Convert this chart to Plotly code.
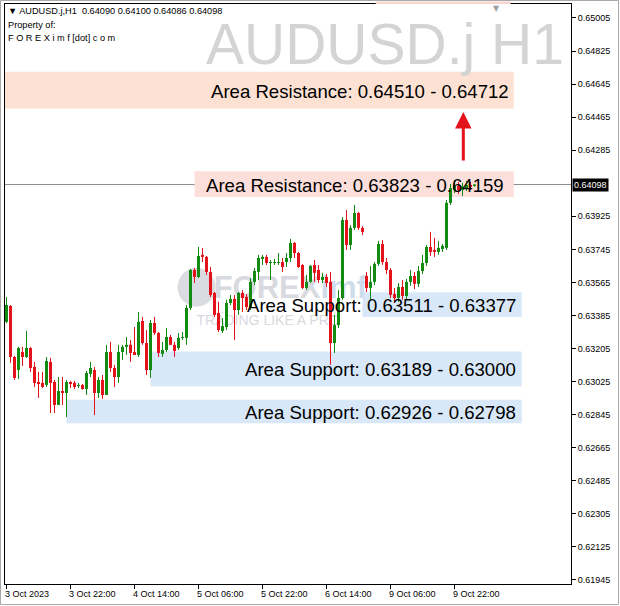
import plotly.graph_objects as go

# ---------------- data (AUDUSD.j H1) ----------------
opens = [0.63350, 0.63437, 0.63159, 0.63088, 0.63186, 0.63159, 0.63208, 0.63105, 0.63023, 0.63018,
         0.63007, 0.63132, 0.63023, 0.62898, 0.62974, 0.62963, 0.63023, 0.63018, 0.63001, 0.63007,
         0.62985, 0.63067, 0.63088, 0.62963, 0.63034, 0.62952, 0.63186, 0.63099, 0.63050, 0.63186,
         0.63214, 0.63225, 0.63186, 0.63170, 0.63355, 0.63235, 0.63088, 0.63344, 0.63290, 0.63176,
         0.63197, 0.63268, 0.63225, 0.63208, 0.63263, 0.63263, 0.63426, 0.63633, 0.63595, 0.63715,
         0.63704, 0.63622, 0.63508, 0.63399, 0.63301, 0.63322, 0.63453, 0.63475, 0.63415, 0.63508,
         0.63486, 0.63431, 0.63568, 0.63622, 0.63693, 0.63704, 0.63671, 0.63671, 0.63671, 0.63676,
         0.63676, 0.63698, 0.63780, 0.63725, 0.63660, 0.63535, 0.63568, 0.63660, 0.63633, 0.63578,
         0.63595, 0.63568, 0.63235, 0.63333, 0.63480, 0.63905, 0.63769, 0.63862, 0.63943, 0.63862,
         0.63600, 0.63535, 0.63568, 0.63666, 0.63774, 0.63676, 0.63633, 0.63502, 0.63480, 0.63540,
         0.63491, 0.63568, 0.63600, 0.63557, 0.63627, 0.63671, 0.63758, 0.63742, 0.63731, 0.63747,
         0.63753, 0.63998, 0.64068, 0.64090, 0.64068, 0.64079, 0.64096, 0.64090]
highs = [0.63486, 0.63442, 0.63165, 0.63214, 0.63214, 0.63301, 0.63214, 0.63132, 0.63078, 0.63078,
         0.63159, 0.63154, 0.63034, 0.63050, 0.63050, 0.63034, 0.63029, 0.63029, 0.63018, 0.63012,
         0.63083, 0.63132, 0.63105, 0.63050, 0.63061, 0.63225, 0.63241, 0.63116, 0.63225, 0.63225,
         0.63268, 0.63252, 0.63322, 0.63404, 0.63377, 0.63306, 0.63361, 0.63377, 0.63295, 0.63241,
         0.63317, 0.63279, 0.63241, 0.63290, 0.63295, 0.63442, 0.63638, 0.63644, 0.63758, 0.63753,
         0.63709, 0.63649, 0.63513, 0.63459, 0.63371, 0.63470, 0.63497, 0.63497, 0.63513, 0.63524,
         0.63502, 0.63589, 0.63644, 0.63715, 0.63715, 0.63715, 0.63687, 0.63693, 0.63725, 0.63698,
         0.63725, 0.63802, 0.63785, 0.63731, 0.63666, 0.63606, 0.63660, 0.63687, 0.63660, 0.63617,
         0.63611, 0.63622, 0.63388, 0.63524, 0.63921, 0.63960, 0.63878, 0.63987, 0.63949, 0.63872,
         0.63622, 0.63655, 0.63676, 0.63791, 0.63796, 0.63698, 0.63644, 0.63535, 0.63562, 0.63578,
         0.63584, 0.63633, 0.63622, 0.63655, 0.63715, 0.63769, 0.63840, 0.63807, 0.63791, 0.63774,
         0.64014, 0.64101, 0.64123, 0.64112, 0.64107, 0.64117, 0.64112, 0.64100]
lows = [0.63344, 0.63127, 0.63034, 0.63039, 0.63110, 0.63154, 0.63078, 0.62996, 0.62936, 0.62990,
        0.62996, 0.62854, 0.62854, 0.62898, 0.62898, 0.62832, 0.62990, 0.62985, 0.62990, 0.62980,
        0.62952, 0.63050, 0.62843, 0.62936, 0.62931, 0.62952, 0.63078, 0.62996, 0.63018, 0.63143,
        0.63170, 0.63132, 0.63170, 0.63159, 0.63225, 0.63061, 0.63045, 0.63279, 0.63159, 0.63159,
        0.63186, 0.63225, 0.63159, 0.63197, 0.63252, 0.63225, 0.63415, 0.63562, 0.63589, 0.63676,
        0.63606, 0.63486, 0.63377, 0.63295, 0.63290, 0.63306, 0.63442, 0.63252, 0.63388, 0.63404,
        0.63415, 0.63415, 0.63551, 0.63578, 0.63660, 0.63660, 0.63578, 0.63660, 0.63660, 0.63622,
        0.63649, 0.63676, 0.63698, 0.63644, 0.63529, 0.63524, 0.63562, 0.63568, 0.63562, 0.63562,
        0.63540, 0.63116, 0.63181, 0.63317, 0.63470, 0.63742, 0.63742, 0.63851, 0.63851, 0.63823,
        0.63513, 0.63470, 0.63551, 0.63655, 0.63660, 0.63611, 0.63480, 0.63453, 0.63459, 0.63470,
        0.63475, 0.63546, 0.63529, 0.63540, 0.63611, 0.63655, 0.63709, 0.63704, 0.63715, 0.63731,
        0.63742, 0.63987, 0.64052, 0.64047, 0.64036, 0.64063, 0.64068, 0.64086]
closes = [0.63442, 0.63159, 0.63045, 0.63208, 0.63159, 0.63208, 0.63099, 0.63018, 0.63012, 0.62996,
          0.63137, 0.63018, 0.62898, 0.62974, 0.62963, 0.63023, 0.63012, 0.62996, 0.63007, 0.62985,
          0.63072, 0.63099, 0.62963, 0.63034, 0.62952, 0.63186, 0.63099, 0.63050, 0.63186, 0.63214,
          0.63225, 0.63181, 0.63170, 0.63350, 0.63235, 0.63088, 0.63344, 0.63290, 0.63181, 0.63197,
          0.63268, 0.63225, 0.63192, 0.63263, 0.63268, 0.63426, 0.63633, 0.63595, 0.63709, 0.63704,
          0.63622, 0.63497, 0.63388, 0.63306, 0.63328, 0.63453, 0.63475, 0.63415, 0.63508, 0.63480,
          0.63431, 0.63568, 0.63627, 0.63698, 0.63704, 0.63671, 0.63676, 0.63676, 0.63676, 0.63649,
          0.63698, 0.63780, 0.63725, 0.63649, 0.63535, 0.63568, 0.63655, 0.63617, 0.63578, 0.63595,
          0.63562, 0.63235, 0.63333, 0.63480, 0.63905, 0.63769, 0.63862, 0.63943, 0.63862, 0.63840,
          0.63535, 0.63568, 0.63666, 0.63774, 0.63676, 0.63633, 0.63497, 0.63480, 0.63540, 0.63491,
          0.63568, 0.63600, 0.63557, 0.63627, 0.63671, 0.63758, 0.63731, 0.63731, 0.63753, 0.63764,
          0.63998, 0.64079, 0.64090, 0.64068, 0.64085, 0.64096, 0.64085, 0.64098]

x_tick_idx = [0, 16, 32, 48, 64, 80, 96, 112]
x_tick_labels = ["3 Oct 2023", "3 Oct 22:00", "4 Oct 14:00", "5 Oct 06:00",
                 "5 Oct 22:00", "6 Oct 14:00", "9 Oct 06:00", "9 Oct 22:00"]
y_ticks = [0.65005, 0.64825, 0.64645, 0.64465, 0.64285, 0.63925, 0.63745, 0.63565, 0.63385,
           0.63205, 0.63025, 0.62845, 0.62665, 0.62485, 0.62305, 0.62125, 0.61945]
last_price = 0.64098

zone_labels = ["Area Resistance: 0.64510 - 0.64712", "Area Resistance: 0.63823 - 0.64159",
               "Area Support: 0.63511 - 0.63377", "Area Support: 0.63189 - 0.63000",
               "Area Support: 0.62926 - 0.62798"]
zone_low = [0.64510, 0.64030, 0.63377, 0.63000, 0.62798]
zone_high = [0.64712, 0.64170, 0.63511, 0.63189, 0.62926]
zone_start = [-0.4, 47, 89, 36, 15]
zone_end = [126.8, 126.8, 128.8, 128.8, 128.8]
zone_label_x = [126.0, 124.8, 127.8, 127.8, 127.8]
zone_colors = ["#FDE2D3", "#FCDFDA", "#D8E8F8", "#D8E8F8", "#D8E8F8"]

arrow_x = 114.2
arrow_from = 0.64221
arrow_to = 0.64493

# ---------------- figure ----------------
GREEN = "#138B13"
RED = "#E3121B"
n = len(opens)
idx = list(range(n))

fig = go.Figure()

# watermark logo text (behind candles -> scatter text added first)
fig.add_trace(go.Scatter(
    x=[51.8], y=[0.63520], mode="text",
    text=["<b><span style='color:#D8DAE0'>FOREX</span><span style='color:#CEDCEC'>imf</span></b>"],
    textfont=dict(family="Liberation Sans", size=31), textposition="middle right",
    hoverinfo="skip", showlegend=False))
fig.add_trace(go.Scatter(
    x=[47.5], y=[0.63350], mode="text",
    text=["TRADING LIKE A PRO"],
    textfont=dict(family="Liberation Sans", size=14, color="#D8DAE0"), textposition="middle right",
    hoverinfo="skip", showlegend=False))

for up, col in [(True, GREEN), (False, RED)]:
    wx, wy, bx, by = [], [], [], []
    for i in idx:
        o, h, l, c = opens[i], highs[i], lows[i], closes[i]
        if (c >= o) != up:
            continue
        wx += [i, i, None]
        wy += [l, h, None]
        lo, hi = min(o, c), max(o, c)
        if hi - lo < 0.00005:
            mid = (hi + lo) / 2
            lo, hi = mid - 0.000028, mid + 0.000028
        bx += [i, i, None]
        by += [lo, hi, None]
    fig.add_trace(go.Scatter(x=wx, y=wy, mode="lines", line=dict(color=col, width=1),
                             hoverinfo="skip", showlegend=False))
    fig.add_trace(go.Scatter(x=bx, y=by, mode="lines", line=dict(color=col, width=3),
                             hoverinfo="skip", showlegend=False))

shapes = []
# zones
for lo, hi, x0, x1, colr in zip(zone_low, zone_high, zone_start, zone_end, zone_colors):
    shapes.append(dict(type="rect", xref="x", yref="y", x0=x0, x1=x1, y0=lo, y1=hi,
                       fillcolor=colr, line=dict(width=0), layer="below"))
# logo circle
shapes.append(dict(type="circle", xref="paper", yref="paper", x0=0.305, x1=0.372, y0=0.478, y1=0.545,
                   fillcolor="#DADCE2", line=dict(width=0), layer="below"))
# current price line
shapes.append(dict(type="line", xref="paper", yref="y", x0=0, x1=1, y0=last_price, y1=last_price,
                   line=dict(color="#8C8C8C", width=1), layer="below"))
# top pink sliver of a zone above the window
shapes.append(dict(type="rect", xref="paper", yref="paper", x0=0.655, x1=0.893, y0=1.0, y1=1.0045,
                   fillcolor="#F6D6CF", line=dict(width=0), layer="above"))
# outer window frame
shapes.append(dict(type="rect", xref="paper", yref="paper", x0=-4.5 / 566, x1=613.5 / 566,
                   y0=-(20.5 / 580), y1=1 + 3.5 / 580, line=dict(color="#A9A9A9", width=1),
                   fillcolor="rgba(0,0,0,0)", layer="above"))

annotations = []
hdr_font = dict(family="Liberation Sans", size=9.2, color="black")
annotations.append(dict(xref="paper", yref="paper", x=0, y=1, xanchor="left", yanchor="middle",
                        xshift=1, yshift=-7, showarrow=False, font=hdr_font,
                        text="▼ AUDUSD.j,H1&nbsp;&nbsp;0.64090 0.64100 0.64086 0.64098"))
annotations.append(dict(xref="paper", yref="paper", x=0, y=1, xanchor="left", yanchor="middle",
                        xshift=1, yshift=-21, showarrow=False, font=hdr_font, text="Property of:"))
annotations.append(dict(xref="paper", yref="paper", x=0, y=1, xanchor="left", yanchor="middle",
                        xshift=1, yshift=-34, showarrow=False, font=hdr_font,
                        text="F O R E X i m f [dot] c o m"))
# big watermark
annotations.append(dict(xref="paper", yref="paper", x=0.992, y=0.931, xanchor="right", yanchor="middle",
                        showarrow=False, text="AUDUSD.j H1",
                        font=dict(family="Liberation Sans", size=57, color="#D4D4D4")))
# chart shift marker
annotations.append(dict(xref="paper", yref="paper", x=0.869, y=1, xanchor="center", yanchor="top",
                        yshift=2, showarrow=False, text="▼",
                        font=dict(family="DejaVu Sans", size=8, color="#A0A0A0")))
# zone labels
for lab, lo, hi, lx in zip(zone_labels, zone_low, zone_high, zone_label_x):
    annotations.append(dict(xref="x", yref="y", x=lx, y=(lo + hi) / 2, xanchor="right",
                            yanchor="middle", yshift=-1, showarrow=False, text=lab,
                            font=dict(family="Liberation Sans", size=18.6, color="black")))
# arrow
annotations.append(dict(xref="x", yref="y", x=arrow_x, y=arrow_to, axref="x", ayref="y",
                        ax=arrow_x, ay=arrow_from, showarrow=True, arrowhead=2, arrowsize=1.1,
                        arrowwidth=3, arrowcolor="#E3121B", text=""))
# last price tag
annotations.append(dict(xref="paper", yref="y", x=1, y=last_price, xanchor="left", yanchor="middle",
                        xshift=1, showarrow=False, text=f"{last_price:.5f}", bgcolor="black",
                        borderpad=1, font=dict(family="Liberation Sans", size=9, color="white")))
# x tick labels (left aligned like MT4)
for ti, tl in zip(x_tick_idx, x_tick_labels):
    annotations.append(dict(xref="x", yref="paper", x=ti - 0.375, y=0, xanchor="left", yanchor="top",
                            xshift=-2, yshift=-3, showarrow=False, text=tl,
                            font=dict(family="Liberation Sans", size=9, color="black")))

fig.update_layout(
    width=620, height=606,
    margin=dict(l=5, r=49, t=4, b=22),
    paper_bgcolor="white", plot_bgcolor="white",
    showlegend=False,
    shapes=shapes, annotations=annotations,
    xaxis=dict(range=[-0.375, 141.125], showgrid=False, zeroline=False, showline=True,
               linecolor="black", linewidth=1, mirror=True, tickvals=x_tick_idx,
               showticklabels=False, ticks="outside", ticklen=4, tickcolor="black", fixedrange=True),
    yaxis=dict(range=[0.61923, 0.65081], side="right", showgrid=False, zeroline=False,
               showline=True, linecolor="black", linewidth=1, mirror=True,
               tickvals=y_ticks, ticktext=[f"{v:.5f}" for v in y_ticks],
               ticks="outside", ticklen=4, tickcolor="black",
               tickfont=dict(family="Liberation Sans", size=9, color="black"), fixedrange=True),
)

fig.write_html("out.html", config={"displayModeBar": False},
               post_script="document.body.style.margin='0px';")
